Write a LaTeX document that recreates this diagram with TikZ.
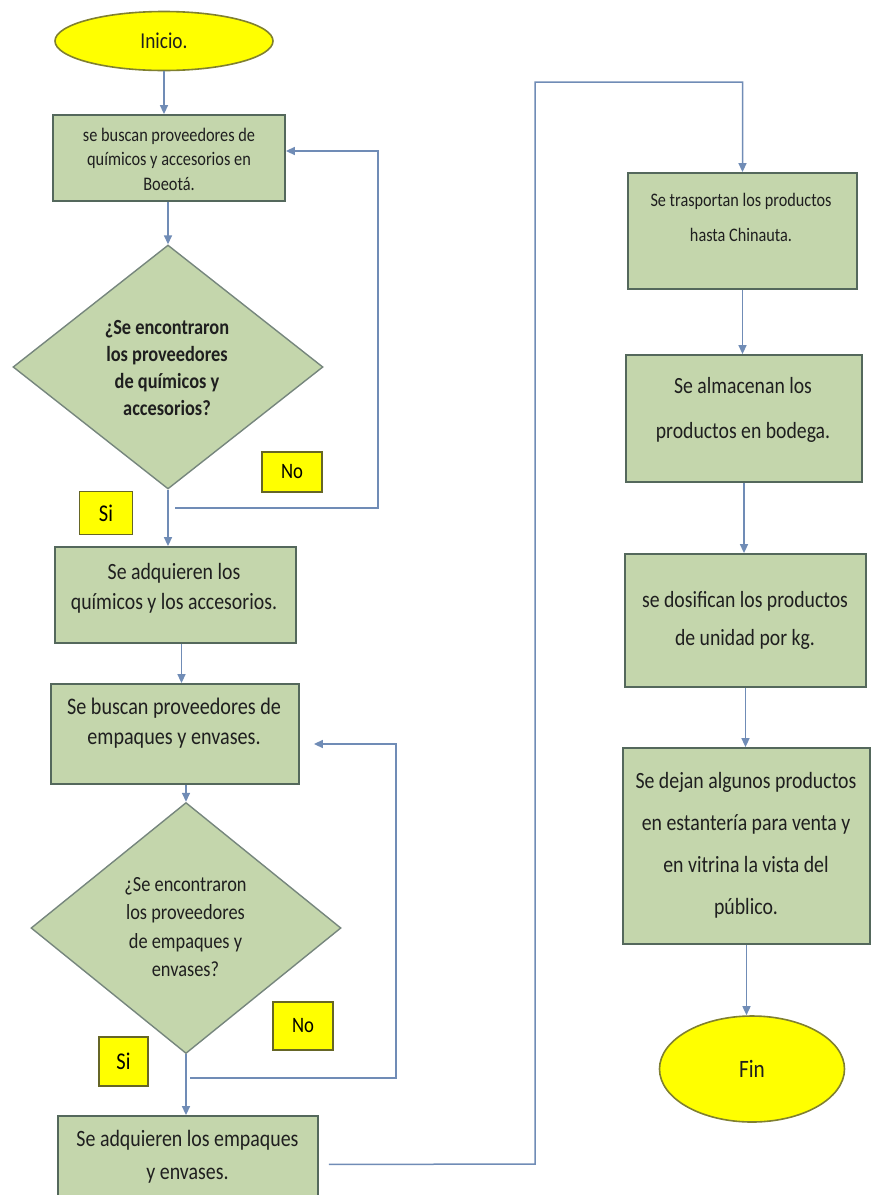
\documentclass[tikz,border=0pt]{standalone}
\usepackage{fontspec}
\setmainfont[FakeStretch=0.85]{Carlito}
\usetikzlibrary{shapes.geometric,arrows.meta}

\definecolor{cajaverde}{RGB}{196,214,172}
\definecolor{bordecaja}{RGB}{84,104,92}
\definecolor{flecha}{RGB}{112,140,182}
\definecolor{amarillo}{RGB}{255,255,0}
\definecolor{bordeamar}{RGB}{128,128,48}

\begin{document}
\begin{tikzpicture}[x=1pt,y=-1pt,
caja/.style={draw=bordecaja,line width=1.8pt,fill=cajaverde,inner sep=0pt},
rombo/.style={diamond,draw=bordecaja!80,line width=1.4pt,fill=cajaverde,inner sep=0pt,minimum width=310pt},
extremo/.style={ellipse,draw=bordeamar,line width=1.6pt,fill=amarillo,inner sep=0pt},
resp/.style={draw=bordeamar!80!black,line width=1.4pt,fill=amarillo,inner sep=0pt},
texto/.style={align=center,inner sep=0pt,text=black!88},
flujo/.style={draw=flecha,line width=1.5pt,-{Triangle[length=9pt,width=8pt]}}]

\useasboundingbox (0,0) rectangle (874,1195);
\clip (0,0) rectangle (874,1195);

% columna izquierda
\node[extremo,minimum width=218pt,minimum height=59pt,text=black!88,font=\fontsize{22.7}{27}\selectfont] (inicio) at (164,41) {Inicio.};

\node[caja,minimum width=232pt,minimum height=86pt] (b1) at (169,158) {};
\node[texto,font=\fontsize{19.2}{24.5}\selectfont] (t1) at (169,159) {se buscan proveedores de\\químicos y accesorios en\\Boeotá.};

\node[rombo,minimum height=244pt] (d1) at (168,367) {};
\node[texto,font=\fontsize{21.6}{27.3}\selectfont\bfseries] (t2) at (167,368) {¿Se encontraron\\los proveedores\\de químicos y\\accesorios?};

\node[resp,minimum width=60pt,minimum height=40pt,font=\fontsize{22}{26}\selectfont] (no1) at (292,472) {No};
\node[resp,minimum width=53pt,minimum height=43pt,font=\fontsize{24}{28}\selectfont] (si1) at (106,513) {Si};

\node[caja,minimum width=241pt,minimum height=96pt] (b2) at (175.5,595) {};
\node[texto,font=\fontsize{23.3}{30}\selectfont] (t3) at (174,588) {Se adquieren los\\químicos y los accesorios.};

\node[caja,minimum width=248pt,minimum height=100pt] (b3) at (175,734) {};
\node[texto,font=\fontsize{23.7}{30}\selectfont] (t4) at (174,723) {Se buscan proveedores de\\empaques y envases.};

\node[rombo,minimum height=251pt] (d2) at (186,928) {};
\node[texto,font=\fontsize{21.6}{28.3}\selectfont] (t5) at (185.5,927) {¿Se encontraron\\los proveedores\\de empaques y\\envases?};

\node[resp,minimum width=60pt,minimum height=48pt,font=\fontsize{22}{26}\selectfont] (no2) at (303,1026) {No};
\node[resp,minimum width=49pt,minimum height=49pt,font=\fontsize{24}{28}\selectfont] (si2) at (123.5,1061.5) {Si};

\node[caja,minimum width=260pt,minimum height=105pt] (b4) at (188,1168.5) {};
\node[texto,font=\fontsize{23.4}{33}\selectfont] (t6) at (187.5,1157) {Se adquieren los empaques\\y envases.};

% columna derecha
\node[caja,minimum width=229pt,minimum height=116pt] (b5) at (742.5,231) {};
\node[texto,font=\fontsize{19.1}{35}\selectfont] (t7) at (741,217) {Se trasportan los productos\\hasta Chinauta.};

\node[caja,minimum width=236pt,minimum height=127pt] (b6) at (744,418.5) {};
\node[texto,font=\fontsize{23.2}{45}\selectfont] (t8) at (743,410) {Se almacenan los\\productos en bodega.};

\node[caja,minimum width=241pt,minimum height=133pt] (b7) at (745.5,620.5) {};
\node[texto,font=\fontsize{23.2}{38}\selectfont] (t9) at (745,620) {se dosifican los productos\\de unidad por kg.};

\node[caja,minimum width=247pt,minimum height=196pt] (b8) at (746.5,846) {};
\node[texto,font=\fontsize{23.3}{42}\selectfont] (t10) at (746,845) {Se dejan algunos productos\\en estantería para venta y\\en vitrina la vista del\\público.};

\node[extremo,minimum width=185pt,minimum height=106pt,text=black!88,font=\fontsize{25}{30}\selectfont] (fin) at (752,1069) {Fin};

% conectores
\coordinate (s1) at (175,508);
\coordinate (r1) at (378,508);
\coordinate (s2) at (190,1078);
\coordinate (r2) at (396,1078);
\coordinate (c1) at (535,1164);
\coordinate (c2) at (535,82);

\draw[flujo] (inicio.south) -- (inicio.south |- b1.north);
\draw[flujo] (d1.north |- b1.south) -- (d1.north);
\draw[flujo] (d1.south) -- (d1.south |- b2.north);
\draw[flujo] (s1) -- (r1) |- ([yshift=7pt]b1.east);
\draw[flujo] ([xshift=6pt]b2.south) -- ([xshift=6pt]b2.south |- b3.north);
\draw[flujo] (b3.south -| d2.north) -- (d2.north);
\draw[flujo,shorten >=14pt] (s2) -- (r2) |- ([yshift=-10pt]b3.east);
\draw[flujo] (d2.south) -- (d2.south |- b4.north);
\draw[flujo,shorten <=10pt] ([yshift=4pt]b4.east) -- (c1) -- (c2) -| (b5.north);

\foreach \a/\b in {b5/b6,b6/b7,b7/b8,b8/fin}
{
\draw[flujo] (\a.south) -- (\a.south |- \b.north);
}
\end{tikzpicture}
\end{document}
